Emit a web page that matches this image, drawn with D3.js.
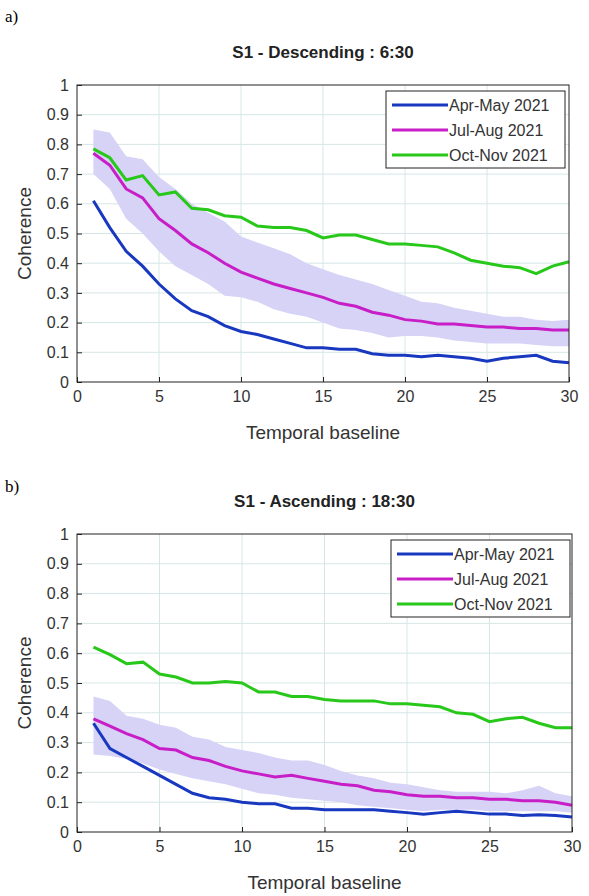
<!DOCTYPE html>
<html><head><meta charset="utf-8">
<script src="https://cdn.jsdelivr.net/npm/d3@7"></script>
<style>body{margin:0;background:#fff;font-family:"Liberation Sans",Arial,sans-serif}</style>
</head><body>
<svg id="c" width="589" height="896"></svg>
<script>
const baseline = d3.range(1, 31);
const seriesNames = ["Apr-May 2021", "Jul-Aug 2021", "Oct-Nov 2021"];
const colors = ["#1838c0", "#c81ec8", "#28c81a"];

const descBlue = [.61,.52,.44,.39,.33,.28,.24,.22,.19,.17,.16,.145,.13,.115,.115,.11,.11,.095,.09,.09,.085,.09,.085,.08,.07,.08,.085,.09,.07,.065];
const descMag = [.77,.73,.65,.62,.55,.51,.465,.435,.40,.37,.35,.33,.315,.30,.285,.265,.255,.235,.225,.21,.205,.195,.195,.19,.185,.185,.18,.18,.175,.175];
const descGreen = [.785,.755,.68,.695,.63,.64,.585,.58,.56,.555,.525,.52,.52,.51,.485,.495,.495,.48,.465,.465,.46,.455,.435,.41,.40,.39,.385,.365,.39,.405];
const descUpper = [.85,.84,.76,.75,.69,.65,.60,.57,.54,.49,.47,.45,.43,.40,.38,.36,.345,.33,.31,.29,.27,.265,.25,.24,.23,.22,.22,.21,.205,.21];
const descLower = [.70,.65,.55,.50,.44,.39,.36,.33,.29,.285,.27,.245,.23,.22,.20,.18,.175,.165,.15,.155,.155,.15,.14,.135,.13,.13,.13,.125,.12,.12];

const ascBlue = [.365,.28,.25,.22,.19,.16,.13,.115,.11,.10,.095,.095,.08,.08,.075,.075,.075,.075,.07,.065,.06,.065,.07,.065,.06,.06,.055,.058,.055,.05];
const ascMag = [.38,.355,.33,.31,.28,.275,.25,.24,.22,.205,.195,.185,.19,.18,.17,.16,.155,.14,.135,.125,.12,.12,.115,.115,.11,.11,.105,.105,.10,.09];
const ascGreen = [.62,.595,.565,.57,.53,.52,.50,.50,.505,.50,.47,.47,.455,.455,.445,.44,.44,.44,.43,.43,.425,.42,.40,.395,.37,.38,.385,.365,.35,.35];
const ascUpper = [.455,.44,.39,.38,.36,.35,.32,.31,.285,.275,.265,.25,.24,.24,.225,.205,.19,.18,.165,.16,.15,.14,.135,.135,.135,.13,.14,.155,.13,.12];
const ascLower = [.26,.255,.245,.23,.21,.195,.18,.17,.16,.145,.13,.125,.115,.11,.105,.10,.09,.085,.08,.075,.07,.075,.075,.075,.07,.07,.07,.07,.07,.065];

const xTicks = [0, 5, 10, 15, 20, 25, 30];
const yTicks = d3.range(0, 11).map(d => d / 10);

const svg = d3.select("#c");

function panel(o) {
  const x = d3.scaleLinear().domain([0, 30]).range([o.left, o.right]);
  const y = d3.scaleLinear().domain([0, 1]).range([o.bottom, o.top]);
  const g = svg.append("g");

  g.append("text").attr("x", 5).attr("y", o.tag_y).attr("font-family", "Liberation Serif, serif")
    .attr("font-size", 17).text(o.tag);
  g.append("text").attr("x", (o.left + o.right) / 2).attr("y", o.top - 27).attr("text-anchor", "middle")
    .attr("font-size", 17).attr("font-weight", "bold").attr("fill", "#222").text(o.title);

  // grid
  g.append("g").selectAll("line").data(xTicks.slice(1, -1)).join("line")
    .attr("x1", d => x(d)).attr("x2", d => x(d)).attr("y1", o.top).attr("y2", o.bottom)
    .attr("stroke", "#d6e6e6");
  g.append("g").selectAll("line").data(yTicks.slice(1, -1)).join("line")
    .attr("y1", d => y(d)).attr("y2", d => y(d)).attr("x1", o.left).attr("x2", o.right)
    .attr("stroke", "#d6e6e6");

  // band
  g.append("path").datum(baseline.map((b, i) => [b, o.lower[i], o.upper[i]]))
    .attr("fill", "#d6d3f7")
    .attr("d", d3.area().x(d => x(d[0])).y0(d => y(d[1])).y1(d => y(d[2])));

  const line = d3.line().x((d, i) => x(baseline[i])).y(d => y(d));
  [o.blue, o.mag, o.green].forEach((s, k) => {
    g.append("path").datum(s).attr("fill", "none").attr("stroke", colors[k])
      .attr("stroke-width", 3).attr("d", line);
  });

  // frame + axes
  g.append("rect").attr("x", o.left).attr("y", o.top).attr("width", o.right - o.left)
    .attr("height", o.bottom - o.top).attr("fill", "none").attr("stroke", "#222");
  const ax = g.append("g").attr("transform", `translate(0,${o.bottom})`)
    .call(d3.axisBottom(x).tickValues(xTicks).tickSize(-5).tickPadding(9));
  const ay = g.append("g").attr("transform", `translate(${o.left},0)`)
    .call(d3.axisLeft(y).tickValues(yTicks).tickFormat(d3.format("~g")).tickSize(-5).tickPadding(8));
  [ax, ay].forEach(a => {
    a.select(".domain").remove();
    a.selectAll("text").attr("font-size", 16).attr("font-family", "Liberation Sans, Arial").attr("fill", "#333");
    a.selectAll("line").attr("stroke", "#222");
  });

  g.append("text").attr("x", (o.left + o.right) / 2).attr("y", o.bottom + 57).attr("text-anchor", "middle")
    .attr("font-size", 19).attr("fill", "#333").text("Temporal baseline");
  g.append("text").attr("transform", `translate(31,${(o.top + o.bottom) / 2}) rotate(-90)`)
    .attr("text-anchor", "middle").attr("font-size", 19).attr("fill", "#333").text("Coherence");

  // legend
  const lg = g.append("g").attr("transform", `translate(${o.legX},${o.legY})`);
  lg.append("rect").attr("width", 179).attr("height", 77).attr("fill", "#fff").attr("stroke", "#222");
  seriesNames.forEach((n, k) => {
    const yy = 14 + k * 25;
    lg.append("line").attr("x1", 6).attr("x2", 62).attr("y1", yy).attr("y2", yy)
      .attr("stroke", colors[k]).attr("stroke-width", 3);
    lg.append("text").attr("x", 63).attr("y", yy + 6).attr("font-size", 16).attr("fill", "#333").text(n);
  });
}

panel({ tag: "a)", tag_y: 22, title: "S1 - Descending : 6:30", left: 77, right: 569, top: 85, bottom: 382,
  legX: 386, legY: 91, blue: descBlue, mag: descMag, green: descGreen, upper: descUpper, lower: descLower });
panel({ tag: "b)", tag_y: 492, title: "S1 - Ascending : 18:30", left: 77, right: 572, top: 534, bottom: 832,
  legX: 391, legY: 540, blue: ascBlue, mag: ascMag, green: ascGreen, upper: ascUpper, lower: ascLower });
</script>
</body></html>
